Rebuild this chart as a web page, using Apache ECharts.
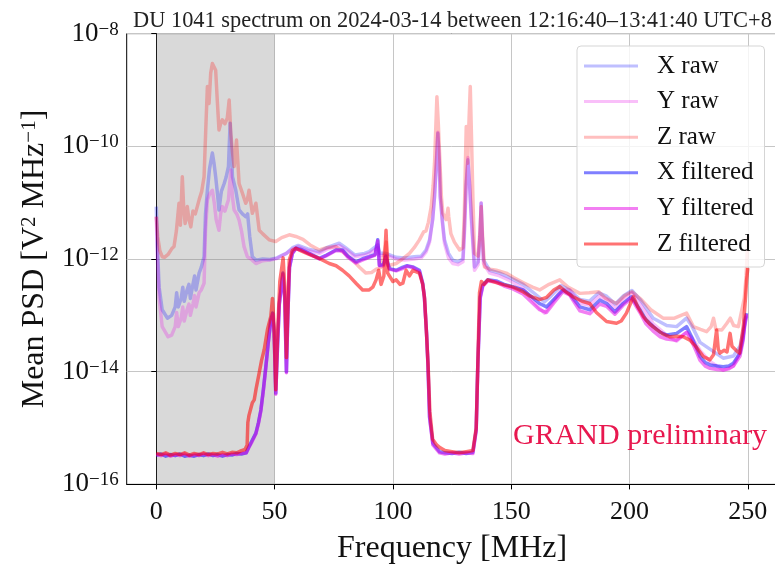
<!DOCTYPE html>
<html>
<head>
<meta charset="utf-8">
<script src="https://cdn.jsdelivr.net/npm/echarts@6/dist/echarts.min.js"></script>
<style>
  html, body { margin: 0; padding: 0; background: #fff; }
  #chart { width: 775px; height: 564px; }
</style>
</head>
<body>
<div id="chart"></div>
<script>
// Mean PSD per channel, stored as [frequency in MHz, log10(PSD in V^2/MHz)]
const xRaw = [[0,-11.07],[0.5,-11.8],[1.2,-12.5],[2.5,-12.9],[4.7,-13.05],[6.5,-13.0],[8,-12.85],[8.6,-12.6],[9.3,-12.85],[10.5,-12.7],[11.2,-12.5],[11.8,-12.75],[13,-12.55],[13.8,-12.45],[14.4,-12.7],[15.5,-12.45],[16.2,-12.3],[16.8,-12.55],[18.1,-12.25],[19,-12.15],[20.2,-11.96],[20.8,-11.2],[21.6,-10.78],[22.5,-10.4],[23.7,-10.12],[24.4,-10.3],[25.1,-10.54],[26,-10.9],[26.5,-11.13],[27.5,-10.8],[28.7,-10.66],[29.5,-10.55],[30.5,-10.36],[31.2,-9.59],[31.8,-10.1],[32.2,-10.54],[33.6,-10.78],[35,-11.13],[36.4,-11.2],[37.8,-11.25],[38.6,-11.2],[39.5,-11.6],[40.6,-11.96],[42.1,-12.02],[45,-12.0],[48,-12.01],[51,-11.98],[53.3,-11.93],[55,-11.9],[57.6,-11.8],[60,-11.76],[64,-11.82],[68.9,-11.87],[72,-11.8],[77.3,-11.72],[80,-11.8],[84,-11.93],[88,-11.9],[90,-11.87],[93.6,-11.75],[94.5,-11.9],[97,-11.9],[101.4,-11.97],[105,-11.98],[109,-11.96],[112,-11.95],[114,-11.84],[115.5,-11.66],[116.8,-11.3],[117.6,-10.89],[118.4,-10.3],[119,-9.77],[119.6,-10.3],[120,-10.89],[121,-11.35],[121.8,-11.66],[123.5,-11.9],[125.3,-12.02],[127.5,-12.05],[129.6,-12.0],[130.2,-11.5],[130.9,-10.7],[131.7,-10.24],[132.3,-10.6],[133.1,-11.19],[134.5,-12.14],[136,-12.05],[136.8,-11.6],[137.3,-11.01],[137.8,-11.6],[138.3,-12.02],[140.9,-12.2],[145.1,-12.25],[149.3,-12.33],[155,-12.45],[160,-12.62],[164,-12.76],[167,-12.65],[171,-12.47],[174.7,-12.55],[179,-12.72],[183,-12.75],[187,-12.6],[190.3,-12.66],[194,-12.8],[197.5,-12.65],[201,-12.56],[204.5,-12.72],[210,-13.05],[215.7,-13.18],[219.9,-13.2],[224.1,-13.05],[226.5,-13.2],[229.8,-13.48],[234,-13.6],[239.6,-13.76],[243.9,-13.72],[246.7,-13.55],[248.5,-13.2],[249.5,-13.02]];

const yRaw = [[0,-11.25],[0.5,-12.0],[1.2,-12.7],[2.5,-13.2],[5,-13.38],[6.5,-13.35],[8,-13.2],[8.6,-12.95],[9.3,-13.2],[10.5,-13.05],[11.2,-12.85],[11.8,-13.1],[13,-12.9],[13.8,-12.8],[14.4,-13.0],[15.5,-12.8],[16.2,-12.65],[16.8,-12.85],[18.1,-12.6],[19,-12.55],[20.2,-12.43],[20.8,-11.5],[21.6,-10.95],[22.5,-10.85],[23.7,-10.78],[24.5,-11.0],[25.3,-11.3],[26.5,-11.49],[27.2,-11.2],[27.9,-11.07],[29,-11.15],[30.5,-10.95],[31.5,-10.42],[32.2,-10.9],[32.9,-11.13],[34,-11.2],[35,-11.31],[36,-11.5],[37.1,-11.78],[38.5,-11.96],[40,-12.0],[42.1,-12.08],[45,-12.03],[48,-12.02],[51,-11.99],[53.3,-11.94],[55,-11.9],[57.6,-11.82],[60,-11.78],[64,-11.85],[68.9,-11.9],[72,-11.83],[77.3,-11.76],[80,-11.83],[84,-11.96],[88,-11.93],[90,-11.9],[93.6,-11.8],[94.5,-11.94],[97,-11.93],[101.4,-12.0],[105,-12.02],[109,-12.0],[112,-11.98],[114,-11.88],[115.5,-11.7],[116.8,-11.3],[117.6,-10.9],[118.4,-10.25],[119,-9.75],[119.6,-10.25],[120,-10.9],[121,-11.4],[121.8,-11.72],[123.5,-11.98],[125.3,-12.08],[127.5,-12.1],[129.6,-12.05],[130.2,-11.6],[130.9,-10.8],[131.7,-10.2],[132.3,-10.6],[133.1,-11.3],[134.5,-12.2],[136,-12.1],[136.8,-11.6],[137.3,-11.0],[137.8,-11.6],[138.3,-12.08],[140.9,-12.25],[145.1,-12.3],[149.3,-12.38],[155,-12.52],[160,-12.78],[164,-12.96],[167,-12.8],[171,-12.55],[174.7,-12.55],[179,-12.78],[183,-12.82],[187,-12.66],[190.3,-12.72],[194,-12.88],[197.5,-12.72],[201,-12.6],[204.5,-12.8],[210,-13.15],[215.7,-13.35],[219.9,-13.46],[224.1,-13.3],[226.5,-13.4],[229.8,-13.62],[234,-13.82],[239.6,-13.97],[243.9,-13.9],[246.7,-13.65],[248.5,-13.25],[249.5,-13.0]];

const zRaw = [[0,-11.25],[0.6,-11.6],[1.5,-11.85],[2.5,-11.96],[3.5,-11.97],[5,-11.92],[6.5,-11.82],[7.5,-11.78],[8.5,-11.5],[9.6,-11.01],[10.2,-11.4],[11,-10.54],[11.6,-11.1],[12.2,-11.37],[13.1,-11.07],[13.8,-11.3],[14.6,-11.43],[15.5,-11.15],[16.5,-11.2],[18.1,-10.95],[19.2,-10.8],[20.2,-10.54],[21,-9.6],[21.6,-8.94],[22.3,-9.24],[23,-8.7],[23.7,-8.53],[24.4,-8.55],[25.1,-8.65],[25.8,-9.2],[26.5,-9.71],[27.2,-9.6],[27.9,-9.53],[29,-9.6],[30,-9.5],[30.8,-9.18],[31.5,-9.77],[32.2,-10.1],[32.9,-10.36],[33.9,-9.89],[34.5,-10.3],[35,-10.66],[36.4,-10.83],[37.8,-11.01],[38.5,-10.95],[39.2,-10.78],[40.6,-11.19],[42.1,-11.01],[43.5,-11.49],[44.9,-11.55],[47.7,-11.66],[50.5,-11.69],[53,-11.62],[56.2,-11.57],[59,-11.6],[62,-11.65],[65,-11.75],[68.9,-11.84],[72,-11.8],[75.9,-11.78],[79,-11.88],[83,-12.02],[86,-12.15],[88.6,-12.25],[91,-12.24],[93,-12.18],[95,-12.15],[97.2,-11.7],[98,-12.12],[101.4,-12.08],[104,-12.0],[107,-11.9],[109,-11.8],[111.2,-11.66],[113,-11.52],[114,-11.5],[115,-11.35],[116.2,-11.07],[117,-10.7],[117.6,-10.3],[118.1,-9.7],[118.6,-9.12],[119.2,-9.6],[119.9,-10.3],[120.5,-10.9],[121.1,-11.19],[122.5,-11.3],[123.3,-11.1],[123.6,-11.25],[124.5,-11.55],[126,-11.7],[128.2,-11.84],[129.6,-11.8],[130.2,-11.2],[130.7,-10.2],[131,-9.65],[131.6,-10.3],[132.2,-9.5],[132.7,-8.94],[133.2,-9.8],[133.8,-10.9],[134.5,-11.9],[136,-11.95],[136.8,-11.5],[137.3,-11.07],[137.9,-11.6],[138.7,-12.14],[141,-12.18],[143.7,-12.2],[147.9,-12.25],[151,-12.33],[155,-12.42],[159,-12.5],[162,-12.55],[166,-12.45],[170.5,-12.37],[174,-12.5],[179,-12.61],[183,-12.6],[187,-12.58],[190,-12.7],[194.5,-12.79],[198,-12.65],[201,-12.58],[205,-12.72],[209,-12.9],[214.2,-13.05],[219,-13.05],[224.1,-12.96],[227,-13.2],[230,-13.25],[232.6,-13.29],[234.5,-13.2],[235.5,-13.05],[236.5,-13.25],[239,-13.26],[241,-13.15],[242.6,-13.05],[244,-13.18],[246,-13.2],[247.5,-12.9],[248.5,-12.7],[249.3,-12.3],[250,-11.6]];

const xFilt = [[0,-15.48],[2,-15.46],[4,-15.5],[6,-15.47],[8,-15.49],[10,-15.46],[12,-15.5],[14,-15.48],[16,-15.5],[18,-15.47],[20,-15.49],[22,-15.46],[24,-15.49],[26,-15.47],[28,-15.5],[30,-15.47],[32,-15.48],[34,-15.45],[36,-15.46],[38,-15.44],[39.2,-15.33],[40.5,-15.22],[42.1,-15.09],[43.2,-14.9],[44.2,-14.68],[45.3,-14.3],[46.3,-13.91],[47.4,-13.45],[48.4,-13.08],[49.2,-12.96],[49.8,-13.3],[50.5,-14.38],[51.2,-13.6],[52,-12.8],[53.5,-12.25],[54.3,-12.7],[55,-14.0],[55.6,-13.0],[56.3,-12.15],[57.5,-11.9],[59,-11.81],[61,-11.83],[64.6,-11.9],[68.9,-11.99],[72,-11.93],[75.9,-11.84],[78.7,-11.84],[81,-11.95],[84.4,-12.05],[87,-12.0],[90,-11.96],[92.5,-11.92],[93.6,-11.66],[94.3,-12.11],[96,-12.1],[97,-11.95],[98.5,-12.17],[101.4,-12.2],[104,-12.15],[106,-12.12],[108.4,-12.14],[111.2,-12.2],[112.6,-12.43],[113.3,-12.67],[114.2,-13.3],[114.8,-13.85],[115.5,-14.8],[116.9,-15.27],[119.7,-15.42],[122,-15.44],[125,-15.45],[128,-15.43],[131,-15.45],[133.8,-15.43],[135.2,-15.03],[135.9,-13.85],[136.9,-12.67],[138,-12.46],[140.1,-12.37],[143.7,-12.39],[147,-12.45],[150.7,-12.49],[155,-12.55],[158,-12.65],[162,-12.79],[164.9,-12.85],[168,-12.72],[171.9,-12.55],[174.7,-12.62],[179,-12.85],[183.2,-12.9],[187.4,-12.73],[190.3,-12.79],[193.8,-12.94],[197.3,-12.79],[200.8,-12.67],[204.4,-12.9],[207,-13.08],[210,-13.2],[213,-13.3],[215.7,-13.35],[219.9,-13.32],[224.1,-13.2],[226.2,-13.38],[228,-13.55],[229.8,-13.73],[232,-13.84],[234,-13.88],[237,-13.9],[239.6,-13.91],[242,-13.9],[243.9,-13.85],[246.7,-13.67],[248,-13.4],[248.8,-13.08],[249.5,-12.96]];

const yFilt = [[0,-15.47],[2,-15.49],[4,-15.46],[6,-15.5],[8,-15.47],[10,-15.49],[12,-15.46],[14,-15.5],[16,-15.47],[18,-15.49],[20,-15.46],[22,-15.49],[24,-15.47],[26,-15.5],[28,-15.47],[30,-15.49],[32,-15.46],[34,-15.47],[36,-15.45],[38,-15.44],[39.2,-15.34],[40.5,-15.24],[42.1,-15.1],[43.2,-14.92],[44.2,-14.7],[45.3,-14.32],[46.3,-13.93],[47.4,-13.47],[48.4,-13.1],[49.2,-12.98],[49.8,-13.3],[50.5,-14.4],[51.2,-13.6],[52,-12.8],[53.5,-12.27],[54.3,-12.7],[55,-14.02],[55.6,-13.0],[56.3,-12.15],[57.5,-11.9],[59,-11.82],[61,-11.84],[64.6,-11.91],[68.9,-12.0],[72,-11.94],[75.9,-11.85],[78.7,-11.86],[81,-11.97],[84.4,-12.07],[87,-12.02],[90,-11.97],[92.5,-11.93],[93.6,-11.68],[94.3,-12.12],[96,-12.12],[97,-11.97],[98.5,-12.18],[101.4,-12.21],[104,-12.17],[106,-12.13],[108.4,-12.15],[111.2,-12.22],[112.6,-12.45],[113.3,-12.68],[114.2,-13.3],[114.8,-13.87],[115.5,-14.82],[116.9,-15.3],[119.7,-15.44],[122,-15.46],[125,-15.44],[128,-15.46],[131,-15.44],[133.8,-15.45],[135.2,-15.05],[135.9,-13.87],[136.9,-12.7],[138,-12.48],[140.1,-12.39],[143.7,-12.41],[147,-12.48],[150.7,-12.53],[155,-12.62],[158,-12.74],[162,-12.9],[164.9,-12.95],[168,-12.78],[171.9,-12.58],[174.7,-12.64],[179,-12.92],[183.2,-12.97],[187.4,-12.8],[190.3,-12.84],[193.8,-12.98],[197.3,-12.82],[200.8,-12.7],[204.4,-12.95],[207,-13.15],[210,-13.28],[213,-13.38],[215.7,-13.42],[219.9,-13.44],[224.1,-13.3],[226.2,-13.45],[228,-13.62],[229.8,-13.8],[232,-13.9],[234,-13.94],[237,-13.96],[239.6,-13.97],[242,-13.95],[243.9,-13.9],[246.7,-13.72],[248,-13.45],[248.8,-13.12],[249.5,-12.98]];

const zFilt = [[0,-15.45],[2,-15.47],[4,-15.44],[6,-15.48],[8,-15.45],[10,-15.47],[12,-15.44],[14,-15.48],[16,-15.45],[18,-15.47],[20,-15.44],[22,-15.47],[24,-15.45],[26,-15.46],[28,-15.43],[30,-15.46],[32,-15.43],[34,-15.44],[36,-15.4],[37.5,-15.38],[38.4,-15.3],[38.7,-14.9],[39.2,-14.77],[40,-14.8],[40.6,-14.55],[41.4,-14.5],[42.2,-14.3],[43.5,-14.02],[44.5,-13.8],[45.6,-13.61],[47,-13.25],[48.4,-13.02],[49.1,-12.7],[49.8,-13.2],[50.5,-14.32],[51.2,-13.4],[52.2,-12.4],[53.6,-11.98],[54.3,-12.5],[55,-13.75],[55.6,-12.9],[56.2,-12.02],[57.5,-11.85],[59,-11.81],[61,-11.85],[64.6,-11.92],[68.9,-11.99],[73.1,-12.08],[76,-12.12],[78.7,-12.2],[81.5,-12.3],[84.4,-12.43],[87.2,-12.55],[90,-12.55],[91.5,-12.5],[92.9,-12.37],[94,-12.2],[95,-12.45],[96.2,-12.3],[97.1,-11.49],[97.8,-12.25],[98.5,-12.25],[100,-12.4],[101.4,-12.37],[103,-12.45],[104.2,-12.43],[105.6,-12.2],[107,-12.3],[108.4,-12.2],[111.2,-12.25],[112.6,-12.45],[113.4,-12.7],[114.3,-13.4],[114.9,-13.9],[115.6,-14.7],[116.8,-15.2],[118.5,-15.3],[120,-15.35],[122,-15.4],[125,-15.42],[128,-15.44],[131,-15.42],[133.8,-15.4],[135.2,-15.0],[135.9,-13.85],[136.6,-12.6],[137.4,-12.4],[138.5,-12.45],[140.1,-12.37],[143.7,-12.42],[147,-12.46],[150.7,-12.5],[155,-12.58],[158,-12.66],[162,-12.72],[165,-12.68],[168,-12.55],[170.5,-12.49],[173,-12.58],[176.1,-12.67],[180,-12.75],[183.2,-12.79],[186,-12.95],[190.3,-13.11],[194.5,-13.14],[196.5,-13.1],[198.7,-12.96],[201.6,-12.67],[203.5,-12.85],[205.8,-13.02],[208.5,-13.15],[211.4,-13.25],[214,-13.33],[217.1,-13.38],[220,-13.37],[222.7,-13.38],[225.5,-13.44],[228,-13.55],[231.2,-13.73],[234,-13.79],[235.5,-13.7],[236.8,-13.26],[237.5,-13.6],[238.2,-13.67],[240,-13.62],[241.2,-13.65],[242.5,-13.32],[243.3,-13.55],[245,-13.62],[246.5,-13.67],[248.1,-13.2],[249,-12.7],[249.5,-12.37],[250,-12.16]];

const xTicks = [0, 50, 100, 150, 200, 250];
const yTickExponents = [-16, -14, -12, -10, -8];
const bandRange = [0, 50];

const SERIF = "'Liberation Serif', 'DejaVu Serif', serif";

function toPoints(rows) {
  return rows.map(([f, e]) => [f, Math.pow(10, e)]);
}

const seriesDefs = [
  { name: 'X raw',      rows: xRaw,  color: 'rgba(0,0,255,0.25)' },
  { name: 'Y raw',      rows: yRaw,  color: 'rgba(230,0,230,0.25)' },
  { name: 'Z raw',      rows: zRaw,  color: 'rgba(255,0,0,0.25)' },
  { name: 'X filtered', rows: xFilt, color: 'rgba(0,0,255,0.5)' },
  { name: 'Y filtered', rows: yFilt, color: 'rgba(230,0,230,0.5)' },
  { name: 'Z filtered', rows: zFilt, color: 'rgba(255,0,0,0.55)' }
];

const chart = echarts.init(document.getElementById('chart'), null, { renderer: 'canvas' });

const series = [{
  name: 'band',
  type: 'line',
  data: [],
  silent: true,
  markArea: {
    silent: true,
    itemStyle: { color: 'rgba(128,128,128,0.3)' },
    data: [[{ xAxis: bandRange[0] }, { xAxis: bandRange[1] }]]
  }
}].concat(seriesDefs.map(d => ({
  name: d.name,
  type: 'line',
  data: toPoints(d.rows),
  showSymbol: false,
  symbol: 'none',
  animation: false,
  lineStyle: { color: d.color, width: 3.5, join: 'round' },
  itemStyle: { color: d.color },
  z: 3
})));

chart.setOption({
  animation: false,
  title: {
    text: 'DU 1041 spectrum on 2024-03-14 between 12:16:40\u201313:41:40 UTC+8',
    left: 128,
    top: 5,
    textStyle: { fontFamily: SERIF, fontSize: 22.4, fontWeight: 'normal', color: '#222' }
  },
  grid: {
    left: 126.7, right: -2.4, top: 33.6, bottom: 79.6,
    containLabel: false,
    outerBoundsMode: 'none',
    show: true, borderColor: '#000', borderWidth: 1
  },
  legend: {
    data: seriesDefs.map(d => ({ name: d.name, icon: 'rect' })),
    orient: 'vertical',
    left: 577,
    top: 46,
    padding: [7, 11, 10, 7],
    itemWidth: 54,
    itemHeight: 3,
    itemGap: 9.6,
    backgroundColor: 'rgba(255,255,255,0.8)',
    borderColor: '#d5d5d5',
    borderWidth: 1,
    borderRadius: 4,
    z: 10,
    textStyle: { fontFamily: SERIF, fontSize: 25, color: '#111', lineHeight: 26, padding: [0, 0, 0, 14] }
  },
  xAxis: {
    type: 'value',
    min: -12.5,
    max: 262.5,
    axisLine: { show: true, lineStyle: { color: '#000', width: 1 } },
    axisTick: { show: true, inside: false, length: 5, customValues: xTicks, lineStyle: { color: '#000' } },
    axisLabel: {
      customValues: xTicks,
      margin: 15,
      fontFamily: SERIF, fontSize: 26, color: '#111'
    },
    splitLine: { show: true, lineStyle: { color: '#c6c6c6', width: 1 } },
    name: 'Frequency [MHz]',
    nameLocation: 'middle',
    nameGap: 48,
    nameMoveOverlap: false,
    nameTextStyle: { fontFamily: SERIF, fontSize: 32, color: '#111' }
  },
  yAxis: {
    type: 'log',
    logBase: 10,
    min: 1e-16,
    max: 1e-8,
    axisLine: { show: true, lineStyle: { color: '#000', width: 1 } },
    axisTick: { show: true, inside: false, length: 5, customValues: yTickExponents.map(e => Math.pow(10, e)), lineStyle: { color: '#000' } },
    axisLabel: {
      customValues: yTickExponents.map(e => Math.pow(10, e)),
      margin: 8,
      formatter: v => '{b|10}{s|\u2212' + Math.abs(Math.round(Math.log10(v))) + '}',
      rich: {
        b: { fontFamily: SERIF, fontSize: 27, lineHeight: 27, color: '#111', verticalAlign: 'middle' },
        s: { fontFamily: SERIF, fontSize: 19, lineHeight: 19, color: '#111', verticalAlign: 'top' }
      }
    },
    splitLine: { show: true, lineStyle: { color: '#c6c6c6', width: 1 } },
    name: '{t|Mean PSD [V}{s|2}{t| MHz}{s|\u22121}{t|]}',
    nameLocation: 'middle',
    nameGap: 76,
    nameRotate: 90,
    nameTextStyle: {
      rich: {
        t: { fontFamily: SERIF, fontSize: 32, lineHeight: 32, color: '#111', verticalAlign: 'middle' },
        s: { fontFamily: SERIF, fontSize: 21, lineHeight: 21, color: '#111', verticalAlign: 'top' }
      }
    }
  },
  graphic: [{
    type: 'text',
    left: 513,
    top: 421,
    z: 20,
    style: {
      text: 'GRAND preliminary',
      fontFamily: SERIF,
      fontSize: 30,
      fill: '#e8184f'
    }
  }],
  series: series
});
</script>
</body>
</html>
